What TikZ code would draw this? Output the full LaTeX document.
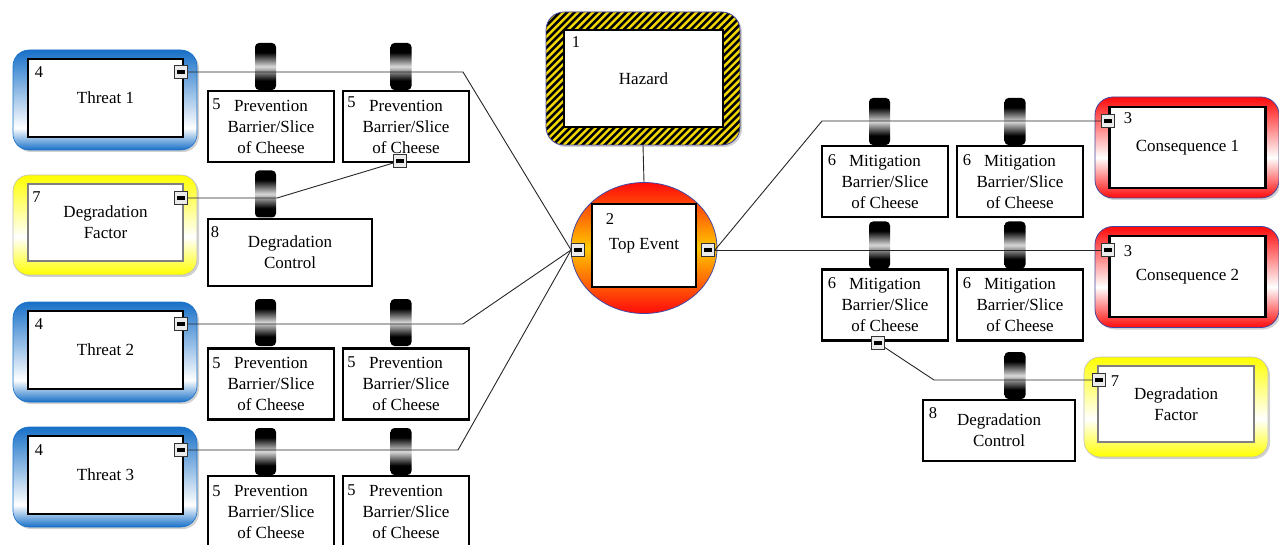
\documentclass[tikz,border=0pt]{standalone}
\usepackage{fontspec}
\setmainfont{Liberation Serif}
\usetikzlibrary{shapes.geometric,shadows}

\definecolor{tblue}{RGB}{24,112,200}
\definecolor{dyel}{RGB}{255,255,0}
\definecolor{cred}{RGB}{255,10,10}
\definecolor{tegold}{RGB}{255,200,0}
\definecolor{hzy}{RGB}{240,215,0}
\definecolor{rimblue}{RGB}{70,70,160}
\definecolor{dfgray}{RGB}{128,128,128}

\pgfdeclareverticalshading{blueshade}{100bp}{color(0bp)=(tblue); color(25bp)=(tblue); color(36bp)=(white); color(75bp)=(tblue); color(100bp)=(tblue)}
\pgfdeclareverticalshading{yelshade}{100bp}{color(0bp)=(dyel); color(25bp)=(dyel); color(44bp)=(white); color(75bp)=(dyel); color(100bp)=(dyel)}
\pgfdeclareverticalshading{redshade}{100bp}{color(0bp)=(cred); color(25bp)=(cred); color(45bp)=(white); color(75bp)=(cred); color(100bp)=(cred)}
\pgfdeclareverticalshading{teshade}{100bp}{color(0bp)=(cred); color(25bp)=(cred); color(50bp)=(tegold); color(75bp)=(cred); color(100bp)=(cred)}
\pgfdeclareverticalshading{postshade}{100bp}{color(0bp)=(black); color(35bp)=(black); color(50bp)=(black!15); color(65bp)=(black); color(100bp)=(black)}

\tikzset{
  txt/.style={font=\fontsize{17}{21}\selectfont, align=center},
  num/.style={font=\fontsize{16.5}{16}\selectfont, inner sep=0},
  shd/.style={drop shadow={shadow xshift=2pt, shadow yshift=-2pt, opacity=0.3, fill=black!60}},
  outerbox/.style={rounded corners=16, minimum width=184, minimum height=100, inner sep=0, shd},
  threatouter/.style={outerbox, draw=tblue, line width=0.6, shade, shading=blueshade},
  dfouter/.style={outerbox, draw=black!25, line width=0.6, shade, shading=yelshade},
  consouter/.style={outerbox, minimum height=101, rounded corners=18, draw=rimblue, line width=0.8, shade, shading=redshade},
  inbox/.style={txt, draw=black, line width=2.6, fill=white, inner sep=0},
  dfbox/.style={txt, draw=dfgray, line width=2.6, fill=white, inner sep=0},
  barrier/.style={inbox, minimum width=126, minimum height=71},
  post/.style={rounded corners=4, shade, shading=postshade, minimum width=21, minimum height=47, inner sep=0},
  conn/.style={draw=black!85, line width=0.9},
  minus/.style={draw=black!80, line width=1.4, fill=black!8, minimum size=12.5, inner sep=0,
    path picture={\fill[black] ([xshift=-3.8pt,yshift=-1.6pt]path picture bounding box.center) rectangle ([xshift=3.8pt,yshift=1.6pt]path picture bounding box.center);}},
  hazard/.style={draw=rimblue, line width=0.8, rounded corners=18, minimum width=194, minimum height=133, inner sep=0, fill=black, shd,
    path picture={\foreach \s in {0,...,52}{\draw[hzy,line width=2.4] ([xshift={-240pt+\s*7.4pt}, yshift=-72pt]path picture bounding box.center) -- ++(150,-150);}}},
}

\begin{document}
\begin{tikzpicture}[x=1pt,y=-1pt]
\useasboundingbox (0,0) rectangle (1279,545);

% ---------- outer shapes ----------
\node[threatouter] (t1o) at (105,100) {};
\node[threatouter] (t2o) at (105,352) {};
\node[threatouter] (t3o) at (105,477) {};
\node[dfouter] (d1o) at (105,225) {};
\node[dfouter] (d2o) at (1176,407) {};
\node[consouter] (c1o) at (1187,147.5) {};
\node[consouter] (c2o) at (1187,277) {};
\node[hazard] (hz) at (643,78.5) {};
\node[ellipse, draw=rimblue, line width=0.8, shade, shading=teshade, minimum width=146, minimum height=131, inner sep=0] (te) at (644,248) {};

% ---------- posts ----------
\node[post] (q11) at (265.5,66.5) {};
\node[post] (q12) at (401,66.5) {};
\node[post] (q21) at (265.5,322.5) {};
\node[post] (q22) at (401,322.5) {};
\node[post] (q31) at (265.5,451.5) {};
\node[post] (q32) at (401,451.5) {};
\node[post] (qd1) at (265.5,194) {};
\node[post] (r11) at (879.5,121.5) {};
\node[post] (r12) at (1015,121.5) {};
\node[post] (r21) at (879.5,245) {};
\node[post] (r22) at (1015,245) {};
\node[post] (rd2) at (1015,375.5) {};

% ---------- inner boxes ----------
\node[inbox, minimum width=155, minimum height=78] (t1) at (105.5,98) {Threat 1};
\node[inbox, minimum width=155, minimum height=78] (t2) at (105.5,350) {Threat 2};
\node[inbox, minimum width=155, minimum height=78] (t3) at (105.5,475) {Threat 3};
\node[dfbox, minimum width=155, minimum height=77] (d1) at (105.5,222.5) {Degradation\\Factor};
\node[dfbox, minimum width=156, minimum height=76] (d2) at (1176,404) {Degradation\\Factor};
\node[inbox, minimum width=156, minimum height=81] (c1) at (1187.5,147.5) {Consequence 1};
\node[inbox, minimum width=156, minimum height=81] (c2) at (1187.5,276.5) {Consequence 2};
\node[inbox, minimum width=159, minimum height=97] (hzi) at (643.5,78.5) {Hazard};
\node[inbox, minimum width=104, minimum height=83] (tei) at (644,245.5) {Top Event};

\node[barrier] (b11) at (271,126.5) {Prevention\\Barrier/Slice\\of Cheese};
\node[barrier] (b12) at (406,126.5) {Prevention\\Barrier/Slice\\of Cheese};
\node[barrier] (b21) at (271,384) {Prevention\\Barrier/Slice\\of Cheese};
\node[barrier] (b22) at (406,384) {Prevention\\Barrier/Slice\\of Cheese};
\node[barrier] (b31) at (271,511.5) {Prevention\\Barrier/Slice\\of Cheese};
\node[barrier] (b32) at (406,511.5) {Prevention\\Barrier/Slice\\of Cheese};
\node[inbox, minimum width=164, minimum height=67] (dc1) at (290,252.5) {Degradation\\Control};

\node[barrier] (m11) at (885,181.5) {Mitigation\\Barrier/Slice\\of Cheese};
\node[barrier] (m12) at (1020,181.5) {Mitigation\\Barrier/Slice\\of Cheese};
\node[barrier] (m21) at (885,305) {Mitigation\\Barrier/Slice\\of Cheese};
\node[barrier] (m22) at (1020,305) {Mitigation\\Barrier/Slice\\of Cheese};
\node[inbox, minimum width=152, minimum height=61] (dc2) at (999,430.5) {Degradation\\Control};

% ---------- minus handles ----------
\node[minus] (t1m) at (181,72) {};
\node[minus] (t2m) at (181,324) {};
\node[minus] (t3m) at (181,450) {};
\node[minus] (d1m) at (181,198) {};
\node[minus] (tel) at (578,250) {};
\node[minus] (ter) at (708,250) {};
\node[minus] (c1m) at (1108,121) {};
\node[minus] (c2m) at (1108,250) {};
\node[minus] (d2m) at (1099,380) {};
\node[minus] (b12m) at (400,161) {};
\node[minus] (m21m) at (878,343) {};

% ---------- coordinates for bends ----------
\coordinate (k1) at (463,72);
\coordinate (k2) at (463,324);
\coordinate (k3) at (458,450);
\coordinate (kd1) at (277,198);
\coordinate (kc1) at (822,121);
\coordinate (kd2) at (934,380);

% ---------- connectors ----------
\draw[conn] (t1m.east) -- (k1) -- (tel.west);
\draw[conn] (t2m.east) -- (k2) -- (tel.west);
\draw[conn] (t3m.east) -- (k3) -- (tel.west);
\draw[conn] (ter.east) -- (kc1) -- (c1m.west);
\draw[conn] (ter.east) -- (c2m.west);
\draw[conn] (hz.south) -- (te.north);
\draw[conn] (d1m.east) -- (kd1) -- (b12m);
\draw[conn] (m21m) -- (kd2) -- (d2m.west);

% ---------- numbers ----------
\node[num] (n1) at (576,42) {1};
\node[num] (n2) at (610,219) {2};
\node[num] (n3a) at (1128,118.5) {3};
\node[num] (n3b) at (1128,251.5) {3};
\node[num] (n4a) at (39,72.5) {4};
\node[num] (n4b) at (39,324) {4};
\node[num] (n4c) at (39,450) {4};
\node[num] (n5a) at (216.5,104) {5};
\node[num] (n5b) at (351.5,102.5) {5};
\node[num] (n5c) at (216.5,363) {5};
\node[num] (n5d) at (351.5,362) {5};
\node[num] (n5e) at (216.5,491.5) {5};
\node[num] (n5f) at (351.5,490) {5};
\node[num] (n6a) at (832,160.5) {6};
\node[num] (n6b) at (967,160.5) {6};
\node[num] (n6c) at (832,283.5) {6};
\node[num] (n6d) at (967,283) {6};
\node[num] (n7a) at (36.5,197.5) {7};
\node[num] (n7b) at (1115,381.5) {7};
\node[num] (n8a) at (215,232) {8};
\node[num] (n8b) at (933,413.5) {8};
\end{tikzpicture}
\end{document}
